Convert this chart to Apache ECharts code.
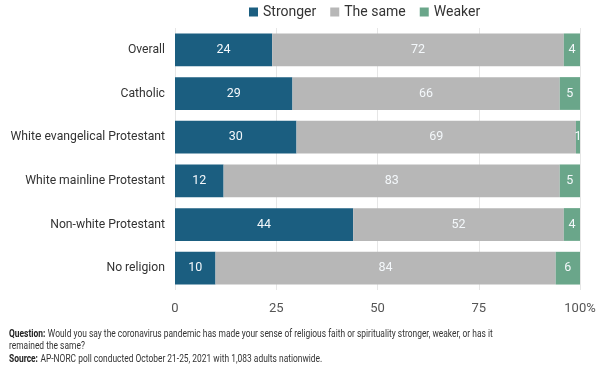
<!DOCTYPE html>
<html><head><meta charset="utf-8">
<script src="https://cdn.jsdelivr.net/npm/echarts@6/dist/echarts.min.js"></script>
<style>html,body{margin:0;padding:0;background:#fff}#c{width:612px;height:374px}</style>
</head><body><div id="c"></div>
<script>
const categories = ['Overall','Catholic','White evangelical Protestant','White mainline Protestant','Non-white Protestant','No religion'];
const stronger = [24,29,30,12,44,10];
const same = [72,66,69,83,52,84];
const weaker = [4,5,1,5,4,6];
const seriesNames = ['Stronger','The same','Weaker'];
const xTicks = [0,25,50,75,100];

const F = 'Roboto';
const chart = echarts.init(document.getElementById('c'));
const lbl = {show:true, color:'#f4f8fb', fontSize:12.5, fontFamily:F};
function mk(name, data, color){
  return {name, type:'bar', stack:'a', data, barCategoryGap:'25%',
    itemStyle:{color}, label:Object.assign({position:'inside'}, lbl)};
}
const SX = 0.765, FS = 11;
chart.setOption({
  animation:false,
  textStyle:{fontFamily:F},
  legend:{top:0, left:244, itemWidth:9, itemHeight:9, itemGap:14,
    icon:'rect', textStyle:{fontSize:14, color:'#333', fontFamily:F}},
  grid:{left:175, right:32, top:28, bottom:84, outerBoundsMode:'none', containLabel:false},
  xAxis:{type:'value', min:0, max:100, interval:25,
    axisLabel:{fontSize:13, color:'#555', margin:12, fontFamily:F,
      formatter:v=> v===100 ? '100%' : String(v)},
    splitLine:{lineStyle:{color:'#e6e6e6'}}, axisLine:{show:false}, axisTick:{show:false}},
  yAxis:{type:'category', data:categories, inverse:true,
    axisLabel:{fontSize:12.2, color:'#333', margin:10, fontFamily:F},
    axisLine:{show:false}, axisTick:{show:false}},
  series:[mk(seriesNames[0], stronger, '#1b5e80'), mk(seriesNames[1], same, '#b7b7b7'), mk(seriesNames[2], weaker, '#6aa68a')],
  graphic:[
    {type:'text', x:9, y:328, scaleX:SX, style:{rich:{b:{fontWeight:'bold',fontSize:FS,fill:'#222',fontFamily:F},n:{fontSize:FS,fill:'#333',fontFamily:F}},
      text:'{b|Question:} {n|Would you say the coronavirus pandemic has made your sense of religious faith or spirituality stronger, weaker, or has it}'}},
    {type:'text', x:9, y:341, scaleX:SX, style:{text:'remained the same?', fontSize:FS, fill:'#333', fontFamily:F}},
    {type:'text', x:9, y:353, scaleX:SX, style:{rich:{b:{fontWeight:'bold',fontSize:FS,fill:'#222',fontFamily:F},n:{fontSize:FS,fill:'#333',fontFamily:F}},
      text:'{b|Source:} {n|AP-NORC poll conducted October 21-25, 2021 with 1,083 adults nationwide.}'}}
  ]
});
</script></body></html>
